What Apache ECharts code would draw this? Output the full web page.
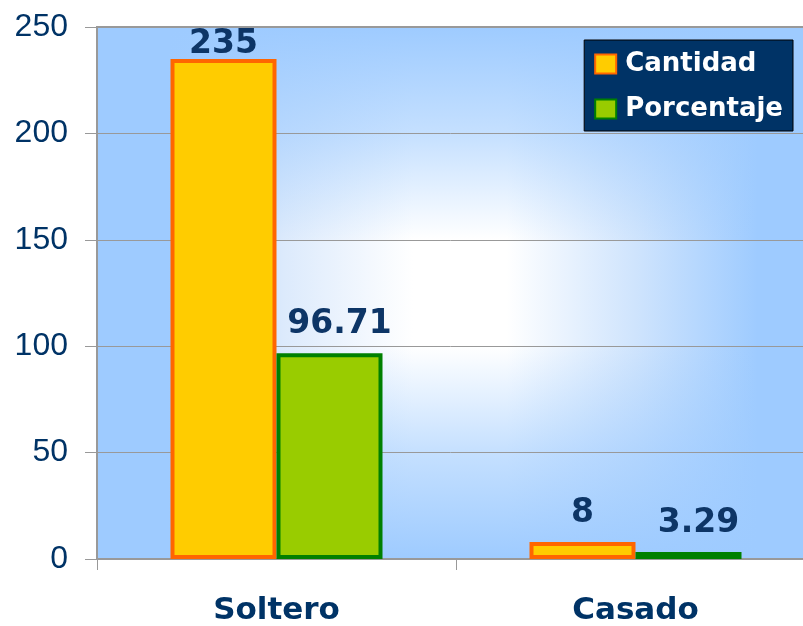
<!DOCTYPE html>
<html>
<head>
<meta charset="utf-8">
<script src="https://cdn.jsdelivr.net/npm/echarts@6/dist/echarts.min.js"></script>
<style>
html, body { margin: 0; padding: 0; background: #fff; }
#chart { width: 803px; height: 626px; }
</style>
</head>
<body>
<div id="chart"></div>
<script>
var categories = ['Soltero', 'Casado'];
var cantidad = [235, 8];
var porcentaje = [96.71, 3.29];
var yTicks = [0, 50, 100, 150, 200, 250];

var chart = echarts.init(document.getElementById('chart'));

// plot rectangle (the right side runs past the window edge)
var plot = { x: 97, y: 27, w: 718, h: 532 };
var blue = '#9ecbff';

function labelStyle(dx) {
	return {
		show: true,
		position: 'top',
		distance: 12,
		offset: [dx, 0],
		color: '#0d3566',
		fontFamily: 'DejaVu Sans',
		fontWeight: 'bold',
		fontSize: 33
	};
}

// the top label sits close to the plot border
var cantidadData = cantidad.map(function (v, i) {
	return i === 0 ? { value: v, label: { distance: -2 } } : v;
});

var option = {
	animation: false,
	backgroundColor: '#fff',
	graphic: [
		{
			type: 'rect', z: -10, silent: true,
			shape: { x: plot.x, y: plot.y, width: plot.w, height: plot.h },
			style: {
				fill: {
					type: 'linear', x: 0, y: 0, x2: 1, y2: 0,
					colorStops: [
						{ offset: 0, color: blue },
						{ offset: 0.1, color: blue },
						{ offset: 0.26, color: '#dceafc' },
						{ offset: 0.44, color: '#ffffff' },
						{ offset: 0.57, color: '#ffffff' },
						{ offset: 0.75, color: '#cfe4fd' },
						{ offset: 0.92, color: blue },
						{ offset: 1, color: blue }
					]
				}
			}
		},
		{
			type: 'rect', z: -9, silent: true,
			shape: { x: plot.x, y: plot.y, width: plot.w, height: plot.h },
			style: {
				fill: {
					type: 'linear', x: 0, y: 0, x2: 0, y2: 1,
					colorStops: [
						{ offset: 0, color: 'rgba(158,203,255,1)' },
						{ offset: 0.2, color: 'rgba(158,203,255,0.6)' },
						{ offset: 0.4, color: 'rgba(158,203,255,0)' },
						{ offset: 0.6, color: 'rgba(158,203,255,0)' },
						{ offset: 0.8, color: 'rgba(158,203,255,0.6)' },
						{ offset: 1, color: 'rgba(158,203,255,1)' }
					]
				}
			}
		}
	],
	grid: {
		show: true,
		left: plot.x,
		top: plot.y,
		width: plot.w,
		height: plot.h,
		outerBoundsMode: 'none',
		containLabel: false,
		borderColor: '#999',
		borderWidth: 2,
		backgroundColor: 'transparent'
	},
	legend: {
		right: 10,
		top: 40,
		orient: 'vertical',
		backgroundColor: '#003366',
		borderColor: '#000',
		borderWidth: 1,
		padding: [11, 10, 9, 10],
		itemGap: 19,
		itemWidth: 21,
		itemHeight: 19,
		icon: 'rect',
		textStyle: {
			color: '#fff',
			fontFamily: 'DejaVu Sans',
			fontWeight: 'bold',
			fontSize: 26,
			lineHeight: 26,
			padding: [0, 0, 0, 4]
		},
		data: ['Cantidad', 'Porcentaje']
	},
	xAxis: {
		type: 'category',
		data: categories,
		axisLine: { lineStyle: { color: '#999', width: 2 } },
		axisTick: { show: true, length: 11, lineStyle: { color: '#999', width: 1 } },
		axisLabel: {
			color: '#003366',
			fontFamily: 'DejaVu Sans',
			fontWeight: 'bold',
			fontSize: 31,
			margin: 36
		}
	},
	yAxis: {
		type: 'value',
		min: yTicks[0],
		max: yTicks[yTicks.length - 1],
		interval: 50,
		axisLine: { show: true, lineStyle: { color: '#999', width: 2 } },
		axisTick: { show: true, length: 12, lineStyle: { color: '#999', width: 1 } },
		splitLine: { lineStyle: { color: '#999', width: 1 } },
		axisLabel: {
			color: '#003366',
			fontFamily: 'Liberation Sans',
			fontSize: 32,
			margin: 29
		}
	},
	series: [
		{
			name: 'Cantidad',
			type: 'bar',
			data: cantidadData,
			barWidth: 106,
			barGap: '0%',
			itemStyle: { color: '#ffcc00', borderColor: '#ff6600', borderWidth: 4 },
			label: labelStyle(0)
		},
		{
			name: 'Porcentaje',
			type: 'bar',
			data: porcentaje,
			barWidth: 106,
			barGap: '0%',
			itemStyle: { color: '#99cc00', borderColor: '#008000', borderWidth: 4 },
			label: labelStyle(10)
		}
	]
};

chart.setOption(option);
</script>
</body>
</html>
